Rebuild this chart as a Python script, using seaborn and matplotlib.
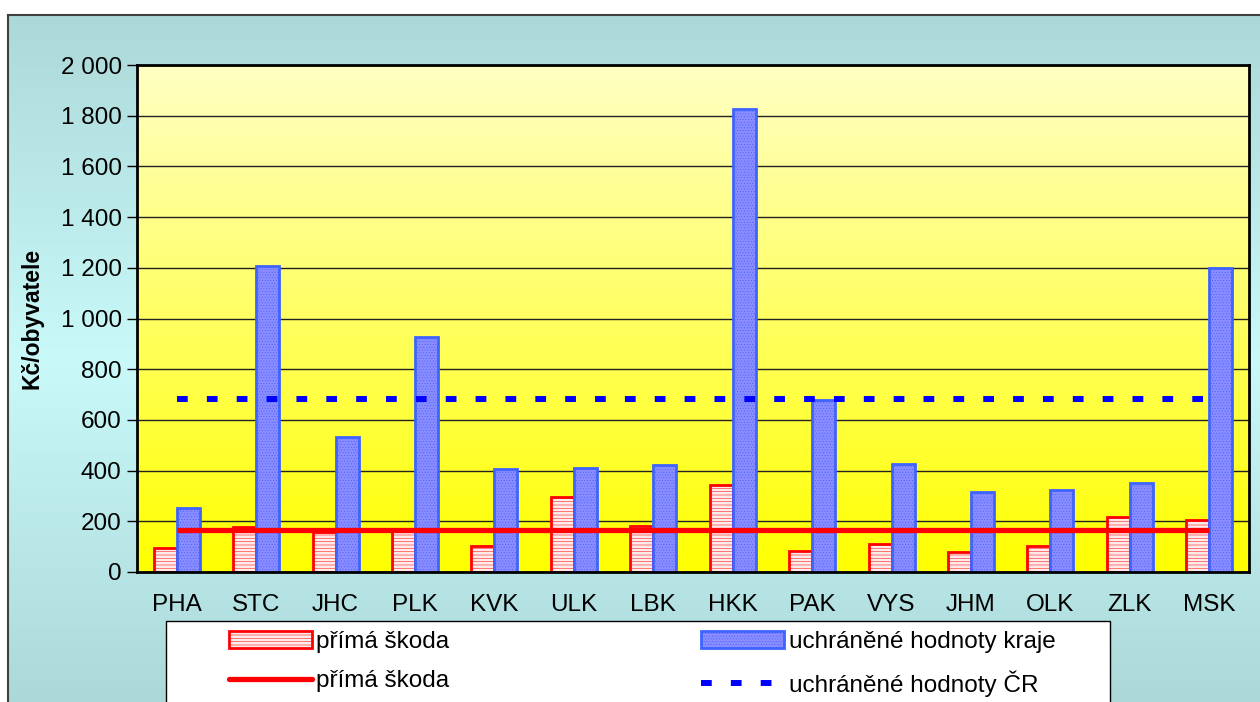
import numpy as np
import pandas as pd
import matplotlib
matplotlib.use("Agg")
import matplotlib.pyplot as plt
import seaborn as sns
from matplotlib.patches import Patch, Rectangle
from matplotlib.lines import Line2D
from matplotlib.colors import LinearSegmentedColormap
from matplotlib.ticker import FuncFormatter, MultipleLocator, FixedLocator

# data (Kč per inhabitant)
kraje = ["PHA", "STC", "JHC", "PLK", "KVK", "ULK", "LBK",
         "HKK", "PAK", "VYS", "JHM", "OLK", "ZLK", "MSK"]
prima_skoda = [95, 177, 158, 160, 101, 296, 182, 344, 84, 110, 78, 101, 218, 206]
uchranene_kraje = [253, 1207, 532, 927, 406, 410, 422, 1826, 678, 425, 317, 325, 352, 1200]
prima_skoda_cr = 164      # national average, drawn as a line
uchranene_cr = 684        # national average, drawn as a dashed line

lbl_prima = "přímá škoda"
lbl_kraje = "uchráněné hodnoty kraje"
lbl_cr = "uchráněné hodnoty ČR"

red = "#ff0000"
blue_edge = "#3f63ff"
blue_face = "#8a8cff"
pink_face = "#ffeaea"

sns.set_theme(style="white")
plt.rcParams["font.family"] = ["Liberation Sans", "DejaVu Sans"]
plt.rcParams["hatch.linewidth"] = 0.35
for k in ["text.color", "axes.labelcolor", "xtick.color", "ytick.color"]:
    plt.rcParams[k] = "black"
FS = 17.5

W, H = 1260, 702
fig = plt.figure(figsize=(W / 100, H / 100), dpi=100, facecolor="white")

# teal chart-area background with a soft gradient
bg = fig.add_axes([8 / W, 0, 1 - 8 / W, 1 - 15 / H], zorder=-5)
teal = LinearSegmentedColormap.from_list("teal", ["#acd8d8", "#c9f9f9", "#acd8d8"])
bg.imshow(np.linspace(0, 1, 256).reshape(-1, 1), cmap=teal, aspect="auto",
          extent=[0, 1, 0, 1])
bg.set_xticks([])
bg.set_yticks([])
for s in ["right", "bottom"]:
    bg.spines[s].set_visible(False)
for s in ["left", "top"]:
    bg.spines[s].set_color("#404040")
    bg.spines[s].set_linewidth(1.5)

ax = fig.add_axes([137 / W, 1 - 572 / H, (1249 - 137) / W, (572 - 65) / H])
ax.set_facecolor("none")

df = pd.DataFrame({
    "kraj": kraje * 2,
    "hodnota": prima_skoda + uchranene_kraje,
    "serie": [lbl_prima] * len(kraje) + [lbl_kraje] * len(kraje),
})
sns.barplot(data=df, x="kraj", y="hodnota", hue="serie", order=kraje,
            palette=[pink_face, blue_face], width=0.58, saturation=1,
            legend=False, ax=ax, zorder=2)

for bar in ax.containers[0]:
    bar.set_edgecolor(red)
    bar.set_linewidth(2)
    bar.set_hatch("-----")
for bar in ax.containers[1]:
    bar.set_edgecolor(blue_edge)
    bar.set_linewidth(2)
    bar.set_hatch("......")

sns.lineplot(x=kraje, y=[prima_skoda_cr] * len(kraje), sort=False, color=red,
             linewidth=3.8, ax=ax, zorder=4, solid_capstyle="butt")
sns.lineplot(x=kraje, y=[uchranene_cr] * len(kraje), sort=False, color="#0000ff",
             linewidth=4.3, linestyle=(0, (1.8, 3.2)), dash_capstyle="butt",
             ax=ax, zorder=4)

# yellow plot-area gradient
ylw = LinearSegmentedColormap.from_list("ylw", ["#ffff00", "#ffffc4"])
ax.imshow(np.linspace(0, 1, 256).reshape(-1, 1), cmap=ylw, origin="lower",
          aspect="auto", extent=[-0.5, len(kraje) - 0.5, 0, 2000], zorder=0)

ax.set_xlim(-0.5, len(kraje) - 0.5)
ax.set_ylim(0, 2000)
ax.yaxis.set_major_locator(MultipleLocator(200))
ax.yaxis.set_major_formatter(FuncFormatter(lambda v, p: f"{int(v):,}".replace(",", " ")))
ax.set_axisbelow(True)
ax.grid(axis="y", color="#222222", linewidth=1)
ax.grid(axis="x", visible=False)
ax.set_xlabel("")
ax.set_ylabel("Kč/obyvatele", fontsize=FS - 1, fontweight="bold", labelpad=12)
ax.xaxis.set_minor_locator(FixedLocator(np.arange(len(kraje) + 1) - 0.5))
ax.tick_params(axis="x", which="major", length=0, labelsize=FS, pad=16)
ax.tick_params(axis="x", which="minor", length=7, width=1, color="black", direction="out")
ax.tick_params(axis="y", length=7, width=1, color="black", labelsize=FS, pad=4,
               direction="out", left=True)
for s in ax.spines.values():
    s.set_visible(True)
    s.set_color("black")
    s.set_linewidth(2)

# legend in a white box cut off by the bottom edge
fig.add_artist(Rectangle((166 / W, -0.05), (1110 - 166) / W, 0.05 + 1 - 621 / H,
                         transform=fig.transFigure, facecolor="white",
                         edgecolor="black", linewidth=1, zorder=5))
handles = [
    Patch(facecolor=pink_face, edgecolor=red, hatch="-----", linewidth=2),
    Line2D([], [], color=red, linewidth=3.8, solid_capstyle="round"),
    Patch(facecolor=blue_face, edgecolor=blue_edge, hatch="......", linewidth=2),
    Line2D([], [], color="#0000ff", linewidth=4.3, linestyle=(0, (1.8, 3.2)),
           dash_capstyle="butt"),
]
labels = [lbl_prima, lbl_prima, lbl_kraje, lbl_cr]
leg = fig.legend(handles, labels, ncol=2, loc="upper left",
                 bbox_to_anchor=(229 / W, 1 - 631 / H), frameon=False,
                 fontsize=FS, handlelength=3.4, handleheight=0.65,
                 handletextpad=0.2, columnspacing=10.35, labelspacing=0.7,
                 borderpad=0, borderaxespad=0)
leg.set_zorder(6)

fig.savefig("out.png", dpi=100, facecolor="white")
